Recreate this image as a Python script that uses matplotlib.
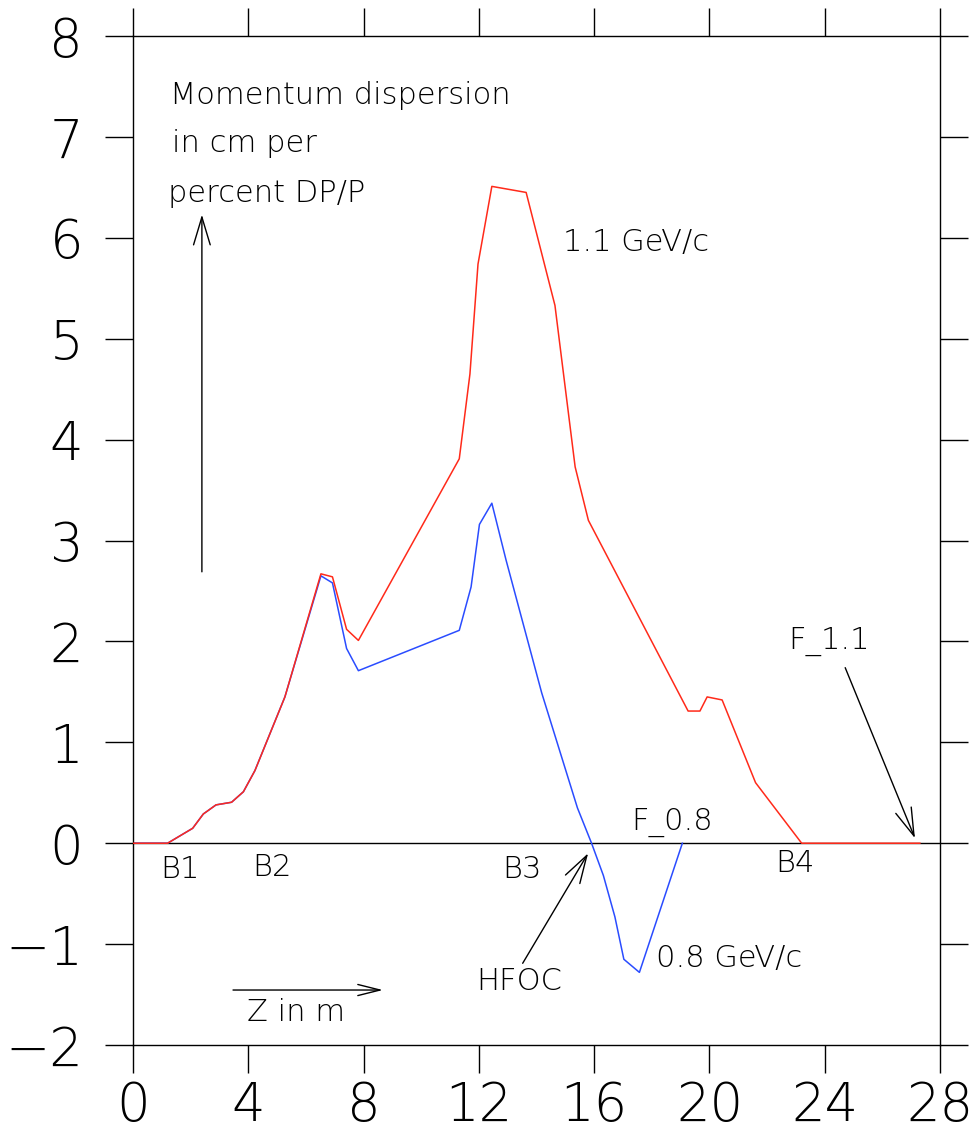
import matplotlib
matplotlib.use("Agg")
from matplotlib import pyplot as plt

# dispersion vs z, 1.1 GeV/c (red) and 0.8 GeV/c (blue)
z_red = [0.0, 1.20, 2.07, 2.44, 2.88, 3.42, 3.83, 4.23, 5.27, 6.52, 6.92, 7.41, 7.82,
         11.32, 11.69, 11.97, 12.45, 13.64, 14.64, 15.34, 15.80, 19.26, 19.67, 19.92,
         20.44, 21.60, 23.20, 27.30]
d_red = [0.0, 0.0, 0.148, 0.29, 0.38, 0.406, 0.51, 0.72, 1.45, 2.67, 2.64, 2.12, 2.01,
         3.81, 4.65, 5.74, 6.51, 6.45, 5.33, 3.73, 3.20, 1.31, 1.31, 1.45,
         1.42, 0.60, 0.0, 0.0]

z_blue = [0.0, 1.20, 2.07, 2.44, 2.88, 3.42, 3.83, 4.23, 5.27, 6.52, 6.92, 7.41, 7.82,
          11.32, 11.73, 12.02, 12.45, 12.94, 14.18, 15.42, 15.91, 16.32, 16.72, 17.03,
          17.57, 19.06]
d_blue = [0.0, 0.0, 0.148, 0.29, 0.38, 0.406, 0.51, 0.72, 1.45, 2.65, 2.58, 1.93, 1.71,
          2.11, 2.54, 3.16, 3.37, 2.81, 1.49, 0.35, 0.0, -0.32, -0.73, -1.15,
          -1.28, 0.0]

x_ticks = [0, 4, 8, 12, 16, 20, 24, 28]
y_ticks = [-2, -1, 0, 1, 2, 3, 4, 5, 6, 7, 8]

FONT = dict(family=["DejaVu Sans"], fontweight=200)
plt.rcParams["font.family"] = ["DejaVu Sans"]
plt.rcParams["font.weight"] = 200

fig = plt.figure(figsize=(9.73, 11.37), dpi=100)
ax = fig.add_axes([0.1367, 0.0809, 0.8294, 0.8874])

ax.axhline(0, color="black", lw=1.0, zorder=1)
ax.plot(z_blue, d_blue, color="#2a4cff", lw=1.1, zorder=2)
ax.plot(z_red, d_red, color="#ff2a1a", lw=1.1, zorder=3)

ax.set_xlim(0, 28)
ax.set_ylim(-2, 8)
ax.set_xticks(x_ticks)
ax.set_yticks(y_ticks)
ax.set_xticklabels([str(t) for t in x_ticks])
ax.set_yticklabels([str(t).replace("-", "\u2212") for t in y_ticks])
ax.tick_params(axis="both", which="both", direction="out", length=20, width=1.0,
               top=True, right=True, labelsize=38)
ax.tick_params(axis="y", pad=16)
ax.tick_params(axis="x", pad=5)
for s in ax.spines.values():
    s.set_linewidth(1.0)

ts = 22
ax.text(1.28, 7.33, "Momentum dispersion", fontsize=ts, **FONT)
ax.text(1.37, 6.853, "in cm per", fontsize=ts, **FONT)
ax.text(1.22, 6.358, "percent DP/P", fontsize=ts, **FONT)
ax.text(14.92, 5.87, "1.1 GeV/c", fontsize=ts, **FONT)
ax.text(0.93, -0.345, "B1", fontsize=ts, **FONT)
ax.text(4.15, -0.32, "B2", fontsize=ts, **FONT)
ax.text(12.8, -0.34, "B3", fontsize=ts, **FONT)
ax.text(22.28, -0.285, "B4", fontsize=ts, **FONT)
ax.text(17.28, 0.131, "F_0.8", fontsize=ts, **FONT)
ax.text(18.15, -1.224, "0.8 GeV/c", fontsize=ts, **FONT)
ax.text(11.92, -1.455, "HFOC", fontsize=ts, **FONT)
ax.text(22.74, 1.93, "F_1.1", fontsize=ts, **FONT)
ax.text(3.95, -1.762, "Z in m", fontsize=ts, **FONT)

arrow = dict(arrowstyle="->,head_length=1.0,head_width=0.3", color="black",
             lw=1.0, mutation_scale=20, shrinkA=0, shrinkB=0)
ax.annotate("", xy=(2.39, 6.23), xytext=(2.39, 2.69), arrowprops=arrow)
ax.annotate("", xy=(15.79, -0.10), xytext=(13.52, -1.19), arrowprops=arrow)
ax.annotate("", xy=(27.13, 0.05), xytext=(24.71, 1.74), arrowprops=arrow)
small = dict(arrow, arrowstyle="->,head_length=0.8,head_width=0.2")
ax.annotate("", xy=(8.67, -1.455), xytext=(3.47, -1.455), arrowprops=small)

fig.savefig("out.png", dpi=100)
